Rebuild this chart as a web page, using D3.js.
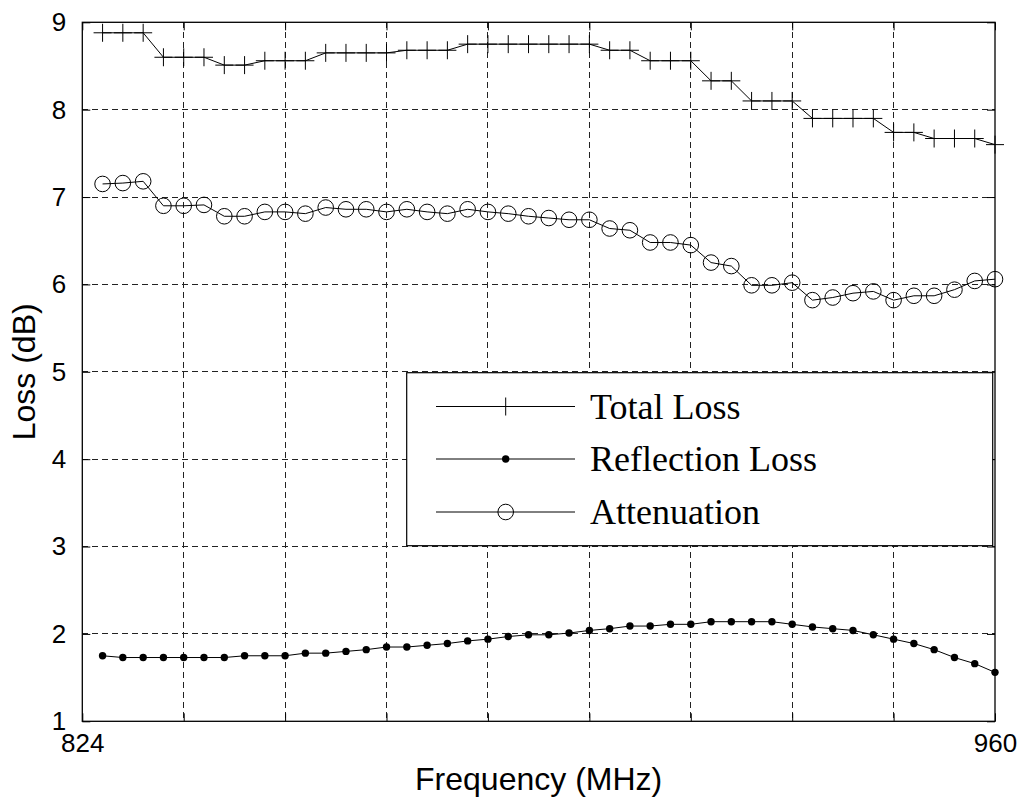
<!DOCTYPE html>
<html>
<head>
<meta charset="utf-8">
<script src="https://cdn.jsdelivr.net/npm/d3@7"></script>
<style>
  body { margin: 0; background: #fff; }
  svg { display: block; }
</style>
</head>
<body>
<div id="chart"></div>
<script>
// frequency points (MHz)
const freq = [
  827.02, 830.04, 833.07, 836.09, 839.11, 842.13, 845.16, 848.18, 851.20, 854.22,
  857.24, 860.27, 863.29, 866.31, 869.33, 872.36, 875.38, 878.40, 881.42, 884.44,
  887.47, 890.49, 893.51, 896.53, 899.56, 902.58, 905.60, 908.62, 911.64, 914.67,
  917.69, 920.71, 923.73, 926.76, 929.78, 932.80, 935.82, 938.84, 941.87, 944.89,
  947.91, 950.93, 953.96, 956.98, 960.00
];

const totalLoss = [
  8.88, 8.88, 8.88, 8.60, 8.60, 8.60, 8.51, 8.51, 8.56, 8.56,
  8.56, 8.65, 8.65, 8.65, 8.65, 8.68, 8.68, 8.68, 8.75, 8.75,
  8.75, 8.75, 8.75, 8.75, 8.75, 8.68, 8.68, 8.56, 8.56, 8.56,
  8.33, 8.33, 8.10, 8.10, 8.10, 7.90, 7.90, 7.90, 7.90, 7.74,
  7.74, 7.67, 7.67, 7.67, 7.60
];

const reflectionLoss = [
  1.75, 1.73, 1.73, 1.73, 1.73, 1.73, 1.73, 1.75, 1.75, 1.75,
  1.78, 1.78, 1.80, 1.82, 1.85, 1.85, 1.87, 1.89, 1.92, 1.94,
  1.97, 1.99, 1.99, 2.01, 2.04, 2.06, 2.09, 2.09, 2.11, 2.11,
  2.14, 2.14, 2.14, 2.14, 2.11, 2.08, 2.06, 2.04, 1.99, 1.94,
  1.89, 1.82, 1.73, 1.66, 1.56
];

const attenuation = [
  7.15, 7.16, 7.18, 6.90, 6.90, 6.91, 6.78, 6.78, 6.83, 6.83,
  6.81, 6.88, 6.86, 6.86, 6.83, 6.86, 6.83, 6.81, 6.86, 6.83,
  6.81, 6.78, 6.76, 6.74, 6.74, 6.64, 6.62, 6.48, 6.48, 6.45,
  6.25, 6.21, 5.99, 5.99, 6.02, 5.82, 5.85, 5.90, 5.92, 5.82,
  5.87, 5.87, 5.94, 6.04, 6.06
];

const xTicks = [824, 839.11, 854.22, 869.33, 884.44, 899.56, 914.67, 929.78, 944.89, 960];
const xTickLabels = ["824", "", "", "", "", "", "", "", "", "960"];
const yTicks = [1, 2, 3, 4, 5, 6, 7, 8, 9];

const seriesNames = ["Total Loss", "Reflection Loss", "Attenuation"];

const W = 1022, H = 797;
const margin = { top: 22.3, right: 27, bottom: 75.7, left: 82.3 };
const width = W - margin.left - margin.right,
  height = H - margin.top - margin.bottom;

const svg = d3.select("#chart").append("svg")
  .attr("width", W)
  .attr("height", H);

const g = svg.append("g").attr("transform", `translate(${margin.left},${margin.top})`);

const x = d3.scaleLinear().domain([824, 960]).range([0, width]);
const y = d3.scaleLinear().domain([1, 9]).range([height, 0]);

// grid
const grid = g.append("g").attr("class", "grid");
grid.selectAll(".vgrid")
  .data(xTicks.slice(1, -1))
  .join("line")
  .attr("x1", d => x(d)).attr("x2", d => x(d))
  .attr("y1", 0).attr("y2", height)
  .attr("stroke", "#222").attr("stroke-width", 1)
  .attr("shape-rendering", "crispEdges")
  .attr("stroke-dasharray", "6,4");
grid.selectAll(".hgrid")
  .data(yTicks.slice(1, -1))
  .join("line")
  .attr("x1", 0).attr("x2", width)
  .attr("y1", d => y(d)).attr("y2", d => y(d))
  .attr("stroke", "#222").attr("stroke-width", 1)
  .attr("shape-rendering", "crispEdges")
  .attr("stroke-dasharray", "6,4");

// axes (MATLAB style: ticks inside on all sides)
const tickLen = 8;
const fontSans = "Arial, 'Liberation Sans', Helvetica, sans-serif";

g.append("g")
  .attr("transform", `translate(0,${height})`)
  .call(d3.axisBottom(x).tickValues(xTicks).tickSize(-tickLen).tickPadding(tickLen + 4)
    .tickFormat((d, i) => xTickLabels[i]))
  .call(a => a.select(".domain").remove())
  .call(a => a.selectAll("text").attr("font-size", 26).attr("font-family", fontSans).attr("fill", "#000"));

g.append("g")
  .call(d3.axisTop(x).tickValues(xTicks).tickSize(-tickLen).tickFormat(""))
  .call(a => a.select(".domain").remove());

g.append("g")
  .call(d3.axisLeft(y).tickValues(yTicks).tickSize(-tickLen).tickPadding(tickLen + 8)
    .tickFormat(d3.format("d")))
  .call(a => a.select(".domain").remove())
  .call(a => a.selectAll("text").attr("font-size", 26).attr("font-family", fontSans).attr("fill", "#000"));

g.append("g")
  .attr("transform", `translate(${width},0)`)
  .call(d3.axisRight(y).tickValues(yTicks).tickSize(-tickLen).tickFormat(""))
  .call(a => a.select(".domain").remove());

// series lines
const pts = vals => vals.map((v, i) => [freq[i], v]);
const line = d3.line().x(d => x(d[0])).y(d => y(d[1]));

const lines = g.append("g").attr("class", "series");
[totalLoss, reflectionLoss, attenuation].forEach(vals => {
  lines.append("path")
    .datum(pts(vals))
    .attr("fill", "none")
    .attr("stroke", "#000")
    .attr("stroke-width", 1)
    .attr("d", line);
});

// markers
const plusSize = 9;
const drawPlus = (sel, cx, cy) => {
  sel.append("path")
    .attr("d", `M${cx - plusSize},${cy}H${cx + plusSize}M${cx},${cy - plusSize}V${cy + plusSize}`)
    .attr("stroke", "#000").attr("stroke-width", 1).attr("fill", "none");
};

const markers = g.append("g").attr("class", "markers");
pts(totalLoss).forEach(d => drawPlus(markers, x(d[0]), y(d[1])));

markers.selectAll(".dot")
  .data(pts(reflectionLoss))
  .join("circle")
  .attr("class", "dot")
  .attr("cx", d => x(d[0])).attr("cy", d => y(d[1]))
  .attr("r", 3.7)
  .attr("fill", "#000");

markers.selectAll(".ring")
  .data(pts(attenuation))
  .join("circle")
  .attr("class", "ring")
  .attr("cx", d => x(d[0])).attr("cy", d => y(d[1]))
  .attr("r", 7.8)
  .attr("fill", "none")
  .attr("stroke", "#000")
  .attr("stroke-width", 1);

// legend
const legend = svg.append("g").attr("class", "legend");
legend.append("rect")
  .attr("x", 406.7).attr("y", 372.7)
  .attr("width", 992.7 - 406.7).attr("height", 545.7 - 372.7)
  .attr("fill", "#fff").attr("stroke", "#000").attr("stroke-width", 1.2);

const rowY = [406.5, 459, 512];
seriesNames.forEach((name, i) => {
  const ly = rowY[i];
  legend.append("line")
    .attr("x1", 436).attr("x2", 575)
    .attr("y1", ly).attr("y2", ly)
    .attr("stroke", "#000").attr("stroke-width", 1);
  if (i === 0) drawPlus(legend, 505.7, ly);
  if (i === 1) legend.append("circle").attr("cx", 505.7).attr("cy", ly).attr("r", 3.7).attr("fill", "#000");
  if (i === 2) legend.append("circle").attr("cx", 505.7).attr("cy", ly).attr("r", 7.8)
    .attr("fill", "none").attr("stroke", "#000").attr("stroke-width", 1);
  legend.append("text")
    .attr("x", 590).attr("y", ly + 12)
    .attr("font-family", "'Times New Roman', 'Liberation Serif', Times, serif")
    .attr("font-size", 36)
    .attr("fill", "#000")
    .text(name);
});

// axis box
g.append("rect")
  .attr("x", 0).attr("y", 0)
  .attr("width", width).attr("height", height)
  .attr("fill", "none").attr("stroke", "#000").attr("stroke-width", 1.3);

// axis titles
svg.append("text")
  .attr("x", margin.left + width / 2).attr("y", 790)
  .attr("text-anchor", "middle")
  .attr("font-family", fontSans).attr("font-size", 32)
  .text("Frequency (MHz)");

svg.append("text")
  .attr("transform", `translate(35,${margin.top + height / 2}) rotate(-90)`)
  .attr("text-anchor", "middle")
  .attr("font-family", fontSans).attr("font-size", 32)
  .text("Loss (dB)");
</script>
</body>
</html>
